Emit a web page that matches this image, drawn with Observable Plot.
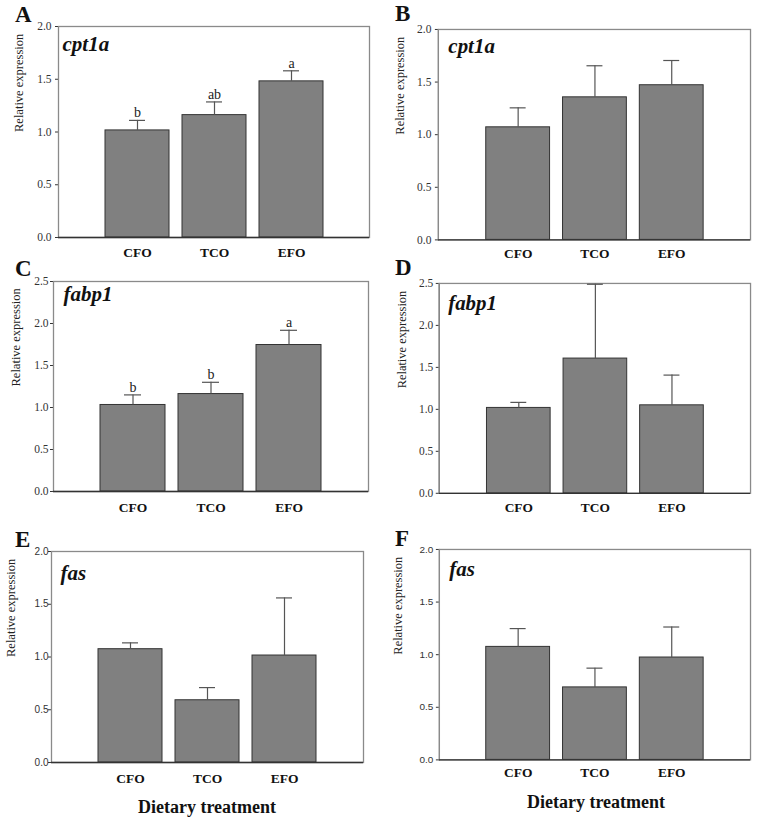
<!DOCTYPE html>
<html><head><meta charset="utf-8">
<script src="https://cdn.jsdelivr.net/npm/d3@7"></script>
<script src="https://cdn.jsdelivr.net/npm/@observablehq/plot@0.6"></script>
<style>
body{margin:0;background:#fff;}
#fig{position:relative;width:758px;height:822px;overflow:hidden;font-family:"Liberation Serif","Times New Roman",serif;color:#111;}
.pl{position:absolute;}
.lt{position:absolute;font-weight:bold;font-size:23px;line-height:1;white-space:nowrap;}
.xt{position:absolute;font-weight:bold;font-size:18px;line-height:1;white-space:nowrap;transform:translateX(-50%);}
</style></head><body><div id="fig"></div>
<script>
// ---- data ----
const treatments = ["CFO", "TCO", "EFO"];
const panelLetters = ["A", "B", "C", "D", "E", "F"];
const genes = ["cpt1a", "cpt1a", "fabp1", "fabp1", "fas", "fas"];
const means = [
  [1.015, 1.16, 1.48],
  [1.07, 1.355, 1.47],
  [1.03, 1.16, 1.744],
  [1.017, 1.605, 1.048],
  [1.074, 0.59, 1.014],
  [1.074, 0.689, 0.973]
];
const sems = [
  [0.095, 0.125, 0.10],
  [0.185, 0.30, 0.235],
  [0.12, 0.14, 0.175],
  [0.066, 0.885, 0.36],
  [0.06, 0.12, 0.546],
  [0.174, 0.183, 0.29]
];
const sigLetters = [["b", "ab", "a"], null, ["b", "b", "a"], null, null, null];
const yMax = [2, 2, 2.5, 2.5, 2, 2];
const yLabel = "Relative expression";
const xTitle = "Dietary treatment";

// ---- layout ----
const frames = [ // left, right, top, bottom of plot frame in page px
  [58, 369, 26, 237],
  [438, 751, 29, 240],
  [53, 368, 281, 491],
  [439, 752, 283, 494],
  [51, 363, 551, 762],
  [439, 751, 549, 760]
];
const geneOff = [[4, 10], [10, 9], [10, 5], [9, 12], [9, 14], [10, 12]];
const yLabOff = [-40, -38, -38, -37, -41, -41];
const catOff = [15, 14, 16, 14, 16, 13];
const tickPad = [4, 4, 2, 3, 0, 3];
const letterPos = [[15, 23], [395, 22], [15, 277], [395, 276], [15, 548], [395, 547]];
const xTitlePos = [[207, 814], [596, 809]];

const serifF = "'Liberation Serif','Times New Roman',serif";
const sansF = "'Liberation Sans',Arial,sans-serif";
const fig = document.getElementById("fig");
const mL = 50, mR = 8, mT = 12, mB = 28;

frames.forEach(([L, R, T, B], i) => {
  const data = treatments.map((t, j) => ({
    t, m: means[i][j], top: means[i][j] + sems[i][j],
    s: sigLetters[i] ? sigLetters[i][j] : ""
  }));
  const serif = i < 4;
  const chart = Plot.plot({
    width: mL + (R - L) + mR,
    height: mT + (B - T) + mB,
    marginLeft: mL, marginRight: mR, marginTop: mT, marginBottom: mB,
    style: {fontFamily: serif ? serifF : sansF, fontSize: serif ? "11.5px" : "10px", color: "#333", background: "transparent", overflow: "visible"},
    x: {domain: treatments, axis: null, paddingInner: 0.17, paddingOuter: 0.6},
    y: {domain: [0, yMax[i]], ticks: d3.range(0, yMax[i] + 0.01, 0.5), tickFormat: d3.format(".1f"),
        tickSize: 3, tickPadding: tickPad[i], label: null, line: true},
    marks: [
      Plot.frame({stroke: "#8a8a8a", strokeWidth: 1.3}),
      Plot.barY(data, {x: "t", y: "m", fill: "#808080", stroke: "#333", strokeWidth: 1}),
      Plot.ruleX(data, {x: "t", y1: "m", y2: "top", stroke: "#555", strokeWidth: 1.2}),
      Plot.tickY(data, {x: "t", y: "top", stroke: "#555", strokeWidth: 1.2, insetLeft: 24, insetRight: 24}),
      Plot.ruleY([0], {stroke: "#333", strokeWidth: 1.3}),
      Plot.text(data.filter(d => d.s), {x: "t", y: "top", text: "s", lineAnchor: "bottom", dy: -3,
        fontSize: 14, fontFamily: serifF, fill: "#222"}),
      Plot.text([genes[i]], {text: d => d, frameAnchor: "top-left", textAnchor: "start", lineAnchor: "top",
        dx: geneOff[i][0], dy: geneOff[i][1], fontSize: 21, fontWeight: "bold", fontStyle: "italic",
        fontFamily: serifF, fill: "#111"}),
      Plot.text([yLabel], {text: d => d, frameAnchor: "left", rotate: -90, dx: yLabOff[i],
        fontSize: 12.5, fontFamily: serifF, fill: "#222"}),
      Plot.text(data, {x: "t", text: "t", frameAnchor: "bottom", lineAnchor: "middle", dy: catOff[i],
        fontSize: 13.5, fontWeight: "bold", fontFamily: serifF, fill: "#111"})
    ]
  });
  const div = document.createElement("div");
  div.className = "pl";
  div.style.left = (L - mL) + "px";
  div.style.top = (T - mT) + "px";
  div.appendChild(chart);
  fig.appendChild(div);

  const lt = document.createElement("div");
  lt.className = "lt";
  lt.textContent = panelLetters[i];
  lt.style.left = letterPos[i][0] + "px";
  lt.style.top = (letterPos[i][1] - 20) + "px";
  fig.appendChild(lt);
});

xTitlePos.forEach(([x, y]) => {
  const d = document.createElement("div");
  d.className = "xt";
  d.textContent = xTitle;
  d.style.left = x + "px";
  d.style.top = (y - 16) + "px";
  fig.appendChild(d);
});
</script></body></html>
